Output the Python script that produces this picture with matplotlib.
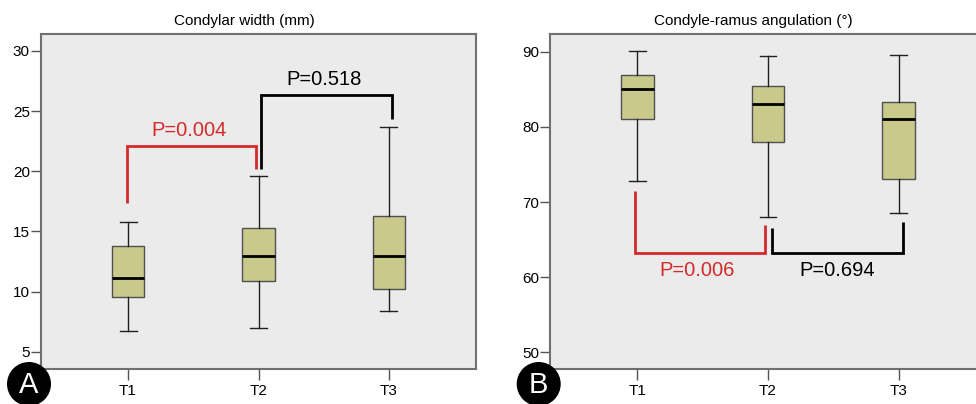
import matplotlib
matplotlib.use('Agg')
import matplotlib.pyplot as plt
from matplotlib.patches import Ellipse

plt.rcParams['font.family'] = ['Liberation Sans', 'DejaVu Sans']

groups = ['T1', 'T2', 'T3']

# condylar width (mm): whisker low, Q1, median, Q3, whisker high
width_low = [6.7, 7.0, 8.4]
width_q1 = [9.6, 10.85, 10.2]
width_med = [11.1, 13.0, 13.0]
width_q3 = [13.8, 15.25, 16.3]
width_high = [15.8, 19.6, 23.7]

# condyle-ramus angulation (deg)
angle_low = [72.85, 68.05, 68.5]
angle_q1 = [81.0, 78.0, 73.1]
angle_med = [85.1, 83.1, 81.05]
angle_q3 = [86.9, 85.45, 83.35]
angle_high = [90.05, 89.45, 89.6]

BOX = '#c9c98b'
EDGE = '#505050'
RED = '#d42a2a'


def stats(low, q1, med, q3, high):
    return [dict(whislo=a, q1=b, med=c, q3=d, whishi=e, fliers=[])
            for a, b, c, d, e in zip(low, q1, med, q3, high)]


def draw_boxes(ax, st):
    ax.set_facecolor('#ebebeb')
    ax.bxp(st, positions=[1, 2, 3], widths=0.25, patch_artist=True,
           showfliers=False,
           boxprops=dict(facecolor=BOX, edgecolor=EDGE, linewidth=1.0),
           medianprops=dict(color='black', linewidth=2.0),
           whiskerprops=dict(color='#202020', linewidth=1.0),
           capprops=dict(color='#202020', linewidth=1.0),
           capwidths=0.13)
    ax.set_xlim(0.333, 3.667)
    ax.set_xticks([1, 2, 3])
    ax.set_xticklabels(groups, fontsize=11)
    ax.tick_params(axis='x', direction='out', length=8, width=1, color='#555', pad=3)
    ax.tick_params(axis='y', direction='out', length=7, width=1, color='#555', pad=1,
                   labelsize=11)
    for s in ax.spines.values():
        s.set_color('#707070')
        s.set_linewidth(1.5)


def bracket(ax, xs, ys, color):
    ax.plot(xs, ys, color=color, linewidth=2.0, solid_joinstyle='miter',
            solid_capstyle='butt')


fig = plt.figure(figsize=(9.76, 4.04), dpi=100)

# panel A
ax1 = fig.add_axes([41 / 976, 35 / 404, 435 / 976, 335 / 404])
draw_boxes(ax1, stats(width_low, width_q1, width_med, width_q3, width_high))
ax1.set_ylim(3.58, 31.4)
ax1.set_yticks([5, 10, 15, 20, 25, 30])
bracket(ax1, [0.99, 0.99, 1.98, 1.98], [17.35, 22.1, 22.1, 20.2], RED)
ax1.text(1.47, 23.35, 'P=0.004', color=RED, fontsize=14.5, ha='center', va='center')
bracket(ax1, [2.02, 2.02, 3.02, 3.02], [20.2, 26.3, 26.3, 24.3], 'black')
ax1.text(2.5, 27.65, 'P=0.518', color='black', fontsize=14.5, ha='center', va='center')

# panel B
ax2 = fig.add_axes([550.3 / 976, 35 / 404, 435.4 / 976, 335 / 404])
draw_boxes(ax2, stats(angle_low, angle_q1, angle_med, angle_q3, angle_high))
ax2.set_ylim(47.78, 92.36)
ax2.set_yticks([50, 60, 70, 80, 90])
bracket(ax2, [0.98, 0.98, 1.98, 1.98], [71.5, 63.2, 63.2, 67.0], RED)
ax2.text(1.46, 60.85, 'P=0.006', color=RED, fontsize=14.5, ha='center', va='center')
bracket(ax2, [2.03, 2.03, 3.03, 3.03], [66.6, 63.2, 63.2, 67.4], 'black')
ax2.text(2.53, 60.85, 'P=0.694', color='black', fontsize=14.5, ha='center', va='center')

# titles
fig.text(244 / 976, 1 - 20.7 / 404, 'Condylar width (mm)', fontsize=11,
         ha='center', va='center')
fig.text(753 / 976, 1 - 20.7 / 404, 'Condyle-ramus angulation (°)', fontsize=11,
         ha='center', va='center')

# panel letters
for cx, letter in [(29, 'A'), (538.7, 'B')]:
    fig.patches.append(Ellipse((cx / 976, 1 - 384 / 404), 44 / 976, 44 / 404,
                               transform=fig.transFigure, facecolor='black',
                               edgecolor='none', zorder=5))
    fig.text(cx / 976, 1 - 385 / 404, letter, color='white', fontsize=21,
             ha='center', va='center', zorder=6)

fig.savefig('out.png', dpi=100)
